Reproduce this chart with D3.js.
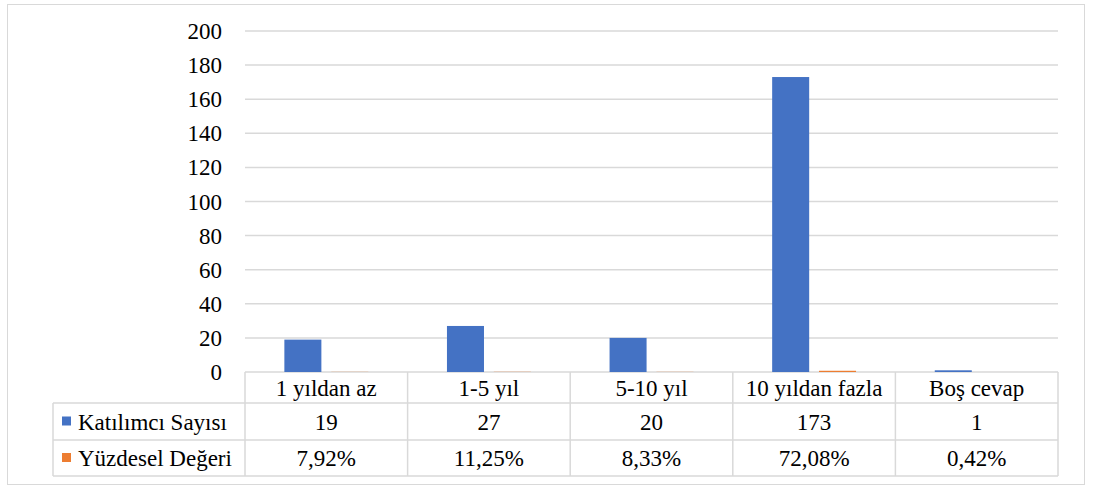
<!DOCTYPE html>
<html>
<head>
<meta charset="utf-8">
<script src="https://cdn.jsdelivr.net/npm/d3@7"></script>
</head>
<body style="margin:0; background:#fff">
<script>
var categories = ["1 yıldan az", "1-5 yıl", "5-10 yıl", "10 yıldan fazla", "Boş cevap"];
var seriesNames = ["Katılımcı Sayısı", "Yüzdesel Değeri"];
var katilimci = [19, 27, 20, 173, 1];
var yuzdesel = [0.0792, 0.1125, 0.0833, 0.7208, 0.0042];
var yTicks = [0, 20, 40, 60, 80, 100, 120, 140, 160, 180, 200];
var colors = ["#4472C4", "#ED7D31"];

var W = 1097, H = 489;
var margin = {top: 31, left: 245, right: 39, bottom: 117};
var width = W - margin.left - margin.right;
var height = H - margin.top - margin.bottom;
var fontSize = 23;
var fontSpec = "23px 'Liberation Serif', 'Times New Roman', Tinos, serif";

var svg = d3.select("body").append("svg")
    .attr("width", W)
    .attr("height", H);

// outer frame
svg.append("rect")
    .attr("x", 7.5).attr("y", 4.5)
    .attr("width", 1077).attr("height", 480)
    .attr("fill", "none")
    .attr("stroke", "#d9d9d9")
    .attr("stroke-width", 1);

var g = svg.append("g")
    .attr("transform", "translate(" + margin.left + "," + margin.top + ")");

var x = d3.scaleBand()
    .domain(categories)
    .range([0, width])
    .padding(0);

var x1 = d3.scaleBand()
    .domain(seriesNames)
    .range([0, x.bandwidth()])
    .paddingInner(0.21)
    .paddingOuter(0.84);

var y = d3.scaleLinear()
    .domain([0, 200])
    .range([height, 0]);

// gridlines
g.append("g")
    .selectAll("line")
    .data(yTicks)
    .join("line")
    .attr("x1", 0)
    .attr("x2", width)
    .attr("y1", d => y(d))
    .attr("y2", d => y(d))
    .attr("stroke", "#d9d9d9")
    .attr("stroke-width", 1.5);

function label(sel) {
  return sel.style("font", fontSpec)
    .attr("fill", "#000")
    .attr("dy", "0.35em");
}

// y axis labels
g.append("g")
    .selectAll("text")
    .data(yTicks)
    .join("text")
    .attr("x", -23)
    .attr("y", d => y(d))
    .attr("text-anchor", "end")
    .call(label)
    .text(d => d);

// bars
var data = categories.map((c, i) => ({cat: c, vals: [katilimci[i], yuzdesel[i]]}));
var groups = g.selectAll(".grp")
    .data(data)
    .join("g")
    .attr("transform", d => "translate(" + x(d.cat) + ",0)");
groups.selectAll("rect")
    .data(d => d.vals.map((v, j) => ({s: seriesNames[j], v: v, j: j})))
    .join("rect")
    .attr("x", d => x1(d.s))
    .attr("width", x1.bandwidth())
    .attr("y", d => y(d.v))
    .attr("height", d => height - y(d.v))
    .attr("fill", d => colors[d.j]);

// data table
var rowH = [31, 37, 36];
var tableTop = height;
var legendLeft = 53 - margin.left;
var lineColor = "#d9d9d9";
var t = g.append("g");

var y1 = tableTop + rowH[0];
var y2 = y1 + rowH[1];
var y3 = y2 + rowH[2];

function hline(yy, xa, xb) {
  t.append("line").attr("x1", xa).attr("x2", xb).attr("y1", yy).attr("y2", yy)
    .attr("stroke", lineColor).attr("stroke-width", 1.5);
}
function vline(xx, ya, yb) {
  t.append("line").attr("x1", xx).attr("x2", xx).attr("y1", ya).attr("y2", yb)
    .attr("stroke", lineColor).attr("stroke-width", 1.5);
}

hline(y1, legendLeft, width);
hline(y2, legendLeft, width);
hline(y3, legendLeft, width);
vline(legendLeft, y1, y3);
categories.forEach(c => vline(x(c), tableTop, y3));
vline(width, tableTop, y3);

// header
t.selectAll(".hdr")
    .data(categories)
    .join("text")
    .attr("x", d => x(d) + x.bandwidth() / 2)
    .attr("y", tableTop + rowH[0] / 2)
    .attr("text-anchor", "middle")
    .call(label)
    .text(d => d);

var fmtPct = v => d3.format(".2f")(v * 100).replace(".", ",") + "%";
var rows = [
  {name: seriesNames[0], vals: katilimci.map(v => String(v)), yc: y1 + rowH[1] / 2},
  {name: seriesNames[1], vals: yuzdesel.map(fmtPct), yc: y2 + rowH[2] / 2}
];

rows.forEach((r, i) => {
  t.append("rect")
    .attr("x", legendLeft + 9)
    .attr("y", r.yc - 5)
    .attr("width", 9)
    .attr("height", 9)
    .attr("fill", colors[i]);
  t.append("text")
    .attr("x", legendLeft + 25)
    .attr("y", r.yc)
    .call(label)
    .text(r.name);
  t.selectAll(".cell" + i)
    .data(r.vals)
    .join("text")
    .attr("x", (d, k) => x(categories[k]) + x.bandwidth() / 2)
    .attr("y", r.yc)
    .attr("text-anchor", "middle")
    .call(label)
    .text(d => d);
});
</script>
</body>
</html>
